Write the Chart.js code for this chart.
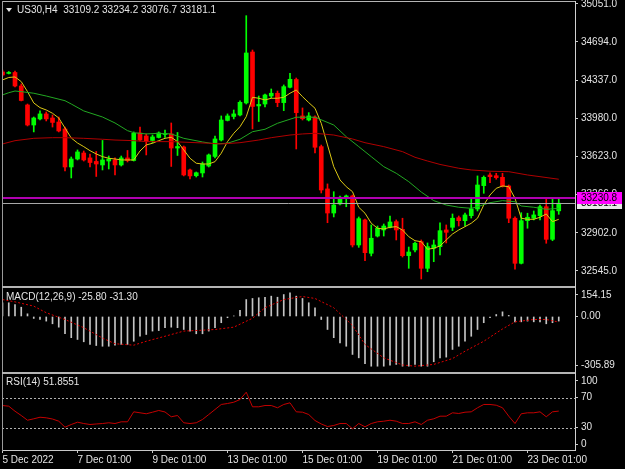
<!DOCTYPE html>
<html>
<head>
<meta charset="utf-8">
<script src="https://cdn.jsdelivr.net/npm/chart.js@4.4.0/dist/chart.umd.min.js"></script>
<style>
  html, body { margin: 0; padding: 0; background: #000; }
  #wrap { position: relative; width: 625px; height: 469px; overflow: hidden; background: #000; }
  #wrap canvas { position: absolute; left: 0; }
  .sep { position: absolute; background: #b4b4b4; }
</style>
</head>
<body>
<div id="wrap">
  <canvas id="cMain" width="625" height="286" style="top:0"></canvas>
  <canvas id="cMacd" width="625" height="84" style="top:288px"></canvas>
  <canvas id="cRsi" width="625" height="96" style="top:373px"></canvas>
  <div class="sep" style="left:2px;top:1px;width:574px;height:1px"></div>
  <div class="sep" style="left:2px;top:1px;width:1px;height:450px;background:#9a9a9a"></div>
  <div class="sep" style="left:2px;top:286px;width:574px;height:2px"></div>
  <div class="sep" style="left:2px;top:372px;width:574px;height:2px"></div>
  <div class="sep" style="left:575px;top:1px;width:1px;height:450px;background:#d0d0d0"></div>
</div>
<script>
// US30 H4 — candles + MAs, MACD(12,26,9), RSI(14)

// ---- data ----
var tradeDays = ["5 Dec", "6 Dec", "7 Dec", "8 Dec", "9 Dec", "12 Dec", "13 Dec", "14 Dec",
  "15 Dec", "16 Dec", "19 Dec", "20 Dec", "21 Dec", "22 Dec", "23 Dec"];
var barHours = ["01:00", "05:00", "09:00", "13:00", "17:00", "21:00"];
var labelIdx = [0, 12, 24, 36, 48, 60, 72, 84];

var open = [
  34413, 34399, 34408, 34281, 34103, 33915, 33972, 34019, 33981, 33943,
  33878, 33521, 33596, 33652, 33606, 33573, 33540, 33577, 33587, 33540,
  33606, 33582, 33840, 33812, 33770, 33798, 33826, 33831, 33699, 33709,
  33493, 33439, 33465, 33530, 33620, 33774, 33958, 33995, 34009, 34122,
  34600, 34094, 34112, 34187, 34213, 34125, 34269, 34342, 34000, 33962,
  33990, 33712, 33315, 33089, 33174, 33227, 33249, 32789, 33024, 32711,
  32873, 32930, 32955, 33008, 32936, 32689, 32742, 32820, 32570, 32758,
  32773, 32930, 32955, 33045, 33017, 33064, 33127, 33346, 33446, 33439,
  33424, 33343, 33040, 32617, 33017, 33040, 33064, 33148, 32842, 33109.2];
var high = [
  34431, 34417, 34422, 34300, 34112, 33990, 34047, 34037, 34009, 33990,
  33896, 33615, 33681, 33671, 33643, 33667, 33770, 33624, 33606, 33624,
  33676, 33850, 33896, 33831, 33821, 33850, 33868, 33934, 33845, 33718,
  33502, 33474, 33568, 33643, 33812, 34000, 34019, 34056, 34141, 34941,
  34619, 34187, 34206, 34253, 34234, 34291, 34400, 34356, 34075, 34031,
  34000, 33727, 33362, 33289, 33249, 33258, 33258, 33052, 33033, 32977,
  32967, 32986, 33061, 33024, 33040, 32770, 32817, 32836, 32808, 32836,
  32998, 32977, 33080, 33061, 33089, 33218, 33437, 33437, 33467, 33462,
  33462, 33352, 33052, 33092, 33087, 33108, 33164, 33218, 33227, 33234.2];
var low = [
  34375, 34394, 34272, 34141, 33906, 33850, 33962, 33953, 33896, 33850,
  33483, 33418, 33587, 33577, 33521, 33432, 33493, 33502, 33446, 33530,
  33568, 33577, 33765, 33634, 33746, 33793, 33798, 33526, 33629, 33437,
  33408, 33427, 33427, 33521, 33606, 33765, 33953, 33972, 34000, 34112,
  33878, 33948, 34084, 34169, 34087, 34050, 34263, 33690, 33962, 33953,
  33652, 33277, 32998, 33052, 33164, 33148, 32770, 32767, 32642, 32686,
  32864, 32873, 32949, 32836, 32676, 32570, 32723, 32470, 32538, 32632,
  32695, 32808, 32923, 32967, 32967, 33042, 33108, 33274, 33374, 33406,
  33333, 32998, 32561, 32611, 32946, 33024, 33024, 32805, 32829, 33076.7];
var close = [
  34385, 34408, 34281, 34145, 33915, 33981, 34019, 33972, 33939, 33859,
  33521, 33596, 33662, 33587, 33563, 33549, 33587, 33596, 33540, 33606,
  33582, 33837, 33774, 33760, 33803, 33840, 33835, 33699, 33713, 33446,
  33437, 33467, 33549, 33634, 33784, 33962, 34000, 34019, 34128, 34591,
  34089, 34108, 34197, 34213, 34125, 34275, 34344, 34031, 33974, 34000,
  33706, 33305, 33089, 33164, 33237, 33249, 32789, 33036, 32717, 32852,
  32946, 32967, 33005, 32930, 32689, 32723, 32805, 32570, 32773, 32789,
  32923, 32908, 33040, 33017, 33071, 33127, 33352, 33424, 33430, 33421,
  33343, 33040, 32617, 33017, 33049, 33071, 33148, 32842, 33111, 33181.1];

// fast MA (yellow), one value per bar
var maFast = [
  34338, 34361, 34366, 34322, 34228, 34122, 34078, 34056, 34025, 33981,
  33887, 33793, 33746, 33712, 33674, 33643, 33618, 33603, 33596, 33587,
  33587, 33587, 33671, 33728, 33744, 33768, 33790, 33800, 33759, 33681,
  33603, 33556, 33549, 33549, 33571, 33650, 33759, 33837, 33899, 33993,
  34175, 34166, 34150, 34166, 34166, 34175, 34213, 34244, 34181, 34125,
  34072, 33931, 33728, 33524, 33399, 33336, 33289, 33143, 33087, 32993,
  32946, 32939, 32955, 32961, 32930, 32867, 32829, 32820, 32749, 32758,
  32780, 32836, 32892, 32930, 32961, 32993, 33040, 33164, 33258, 33321,
  33343, 33336, 33227, 33040, 33030, 33030, 33049, 33080, 33008, 33030];
// medium MA (green), [bar, value]
var maMid = [
  [0, 34197], [1, 34218], [2, 34234], [3, 34228], [5, 34213], [7, 34187], [10, 34143],
  [11, 34112], [13, 34047], [16, 33990], [18, 33934], [20, 33862], [21, 33843], [23, 33831],
  [25, 33837], [27, 33831], [29, 33790], [32, 33756], [34, 33737], [36, 33744], [38, 33781],
  [40, 33852], [42, 33875], [44, 33931], [46, 33969], [47, 33988], [50, 33988], [53, 33915],
  [55, 33805], [57, 33712], [59, 33618], [61, 33524], [63, 33462], [65, 33383], [67, 33286],
  [69, 33205], [71, 33164], [73, 33143], [75, 33133], [76, 33148], [78, 33186], [80, 33205],
  [82, 33195], [83, 33155], [85, 33143], [87, 33124], [89, 33133]];
// slow MA (dark red), [bar, value]
var maSlow = [
  [0, 33737], [2, 33768], [5, 33790], [8, 33796], [10, 33796], [13, 33790], [16, 33781],
  [18, 33774], [21, 33768], [23, 33759], [27, 33759], [33, 33744], [35, 33737], [38, 33749],
  [41, 33774], [43, 33796], [46, 33821], [48, 33831], [50, 33837], [53, 33821], [56, 33784],
  [58, 33749], [61, 33712], [64, 33665], [66, 33612], [68, 33577], [70, 33545], [73, 33509],
  [75, 33493], [78, 33481], [81, 33477], [84, 33446], [86, 33430], [89, 33406]];

var macdMain = [
  77, 77, 67, 52, 15, -11, -17, -26, -41, -60,
  -97, -119, -129, -142, -157, -163, -167, -167, -161, -157,
  -157, -139, -111, -101, -82, -79, -63, -60, -63, -73,
  -82, -97, -97, -82, -63, -35, -7, 3, 34, 95,
  101, 105, 108, 114, 108, 123, 133, 114, 101, 77,
  48, -17, -73, -119, -148, -167, -213, -232, -265, -279,
  -279, -279, -273, -269, -279, -279, -269, -279, -279, -254,
  -232, -228, -185, -167, -139, -111, -73, -35, -7, 11,
  26, 6, -30, -30, -26, -30, -30, -41, -35, -25.8];
var macdSignal = [
  [0, 95], [2, 82], [5, 58], [7, 21], [10, -17], [13, -63], [16, -121], [18, -153],
  [21, -161], [23, -139], [26, -111], [29, -82], [32, -77], [34, -73], [37, -60],
  [40, -10], [42, 49], [45, 95], [48, 112], [50, 101], [53, 49], [56, -50], [58, -157],
  [61, -232], [64, -272], [66, -279], [69, -269], [72, -236], [74, -195], [77, -139],
  [80, -70], [82, -30], [85, -17], [87, -17], [89, -31.3]];
var macdMin = -305.89, macdMax = 154.15;

var rsi = [
  59.3, 58.4, 51.7, 46, 39.7, 41.6, 43.7, 42.9, 41.3, 38.4,
  30.4, 34, 37.1, 35.3, 34, 34.7, 35.3, 36.3, 35.3, 37.6,
  37.6, 50.9, 49.6, 48.3, 50.4, 52.7, 50.7, 44.3, 46, 36.3,
  35.3, 36.3, 40.7, 47.3, 54, 60.7, 62, 63.7, 67.3, 77.1,
  57.6, 57.6, 59.3, 59.3, 56.3, 60.7, 62.9, 50.9, 50.4, 47.3,
  39.3, 34.7, 31.3, 32.7, 35.3, 35.3, 28.3, 35.3, 30.9, 35.3,
  37.6, 38.4, 39.7, 38.4, 35.3, 35.3, 37.6, 34, 39.7, 41.6,
  45.1, 45.1, 49.6, 48.7, 50.4, 50.9, 56.3, 60.7, 60.7, 59.7,
  56.3, 45.1, 35.3, 48.3, 49.6, 49.6, 50.9, 44.3, 50.9, 51.8551];
var rsiLevels = [30, 70];

var priceTicks = [32545, 32902, 33266, 33623, 33980, 34337, 34694, 35051];
var priceMin = 32404, priceMax = 35060;
var alertLevel = 33230.8;

// ---- look ----
var FONT = "'Liberation Sans', Arial, sans-serif";
var FONT_SIZE = 10;
var TXT = "#e4e4e4";
var AXIS = "#c8c8c8";
var UP = "#00ff00", DN = "#ff0000";
var BAR_PX = 6.25, PLOT_W = 573;
var X_MIN = -0.08, X_MAX = X_MIN + PLOT_W / BAR_PX;
var LABEL_INSET_PX = 6;

Chart.defaults.font.family = FONT;
Chart.defaults.font.size = FONT_SIZE;

var last = close.length - 1;
var idx = close.map(function (_, i) { return i; });

function tickLabel(i) {
  var d = tradeDays[Math.floor(i / barHours.length)];
  return i === 0 ? d + " 2022" : d + " " + barHours[i % barHours.length];
}

function pts(pairs) {
  return pairs.map(function (p) { return { x: p[0], y: p[1] }; });
}

function xScale(show) {
  return {
    type: "linear", min: X_MIN, max: X_MAX, offset: false, display: show,
    afterBuildTicks: function (s) { s.ticks = labelIdx.map(function (v) { return { value: v }; }); },
    afterFit: function (s) {
      s.paddingLeft = 0; s.paddingRight = 0;
      s.height = show ? 19 : 0;
    },
    grid: { drawOnChartArea: false, drawTicks: true, tickLength: 3, color: AXIS },
    border: { display: true, color: AXIS },
    ticks: {
      align: "start", autoSkip: false, maxRotation: 0, padding: 1, color: TXT,
      callback: function (v) { return tickLabel(v); }
    }
  };
}

function yScale(min, max, tickValues, fmt) {
  return {
    position: "right", min: min, max: max,
    afterBuildTicks: function (s) { s.ticks = tickValues.map(function (v) { return { value: v }; }); },
    afterFit: function (s) { s.width = 50; s.paddingTop = 0; s.paddingBottom = 0; },
    grid: { drawOnChartArea: false, drawTicks: true, tickLength: 3, color: AXIS },
    border: { display: false },
    ticks: { padding: 3, color: TXT, autoSkip: false, callback: fmt }
  };
}

function baseOptions(padding, scales) {
  return {
    responsive: false, animation: false, devicePixelRatio: 1, events: [],
    layout: { padding: padding },
    plugins: { legend: { display: false }, tooltip: { enabled: false } },
    scales: scales
  };
}

function hline(ctx, a, y, color, width, dash) {
  ctx.save();
  ctx.strokeStyle = color;
  ctx.lineWidth = width;
  ctx.setLineDash(dash || []);
  ctx.beginPath();
  ctx.moveTo(a.left, y);
  ctx.lineTo(a.right, y);
  ctx.stroke();
  ctx.restore();
}

function priceTag(ctx, x, y, value, bg, fg) {
  ctx.fillStyle = bg;
  ctx.fillRect(x, Math.round(y) - 6, 45, 12);
  ctx.fillStyle = fg;
  ctx.font = FONT_SIZE + "px " + FONT;
  ctx.textBaseline = "middle";
  ctx.textAlign = "left";
  ctx.fillText(value.toFixed(1), x + 4, Math.round(y) + 0.5);
}

function paneTitle(ctx, text, x, y) {
  ctx.save();
  ctx.fillStyle = TXT;
  ctx.font = FONT_SIZE + "px " + FONT;
  ctx.textBaseline = "middle";
  ctx.textAlign = "left";
  ctx.fillText(text, x, y);
  ctx.restore();
}

// ---- main pane ----
var mainMarks = {
  id: "mainMarks",
  afterDatasetsDraw: function (chart) {
    var ctx = chart.ctx, a = chart.chartArea, y = chart.scales.y;
    hline(ctx, a, Math.round(y.getPixelForValue(close[last])) + 0.5, "#a8a8a8", 1);
    hline(ctx, a, y.getPixelForValue(alertLevel), "#b000b0", 2);
  },
  afterDraw: function (chart) {
    var ctx = chart.ctx, a = chart.chartArea, y = chart.scales.y;
    ctx.save();
    priceTag(ctx, a.right + 2, y.getPixelForValue(close[last]), close[last], "#e8e8e8", "#000");
    priceTag(ctx, a.right + 2, y.getPixelForValue(alertLevel), alertLevel, "#ff00ff", "#000");
    // header: symbol, timeframe and last bar OHLC
    ctx.fillStyle = TXT;
    ctx.beginPath();
    ctx.moveTo(6, 8); ctx.lineTo(12, 8); ctx.lineTo(9, 12); ctx.closePath();
    ctx.fill();
    ctx.restore();
    paneTitle(ctx, "US30,H4  " + [open[last], high[last], low[last], close[last]]
      .map(function (v) { return v.toFixed(1); }).join(" "), 17, 10);
  }
};

var isUp = idx.map(function (i) { return close[i] >= open[i]; });
var candleColors = isUp.map(function (u) { return u ? UP : DN; });

new Chart(document.getElementById("cMain"), {
  type: "bar",
  data: {
    datasets: [
      { type: "line", data: pts(maSlow), borderColor: "#b00000", borderWidth: 1, pointRadius: 0, order: 0 },
      { type: "line", data: pts(maMid), borderColor: "#22a822", borderWidth: 1, pointRadius: 0, order: 0 },
      { type: "line", data: idx.map(function (i) { return { x: i, y: maFast[i] }; }),
        borderColor: "#dcc814", borderWidth: 1, pointRadius: 0, order: 0 },
      { data: idx.map(function (i) { return { x: i, y: [Math.min(open[i], close[i]), Math.max(open[i], close[i])] }; }),
        backgroundColor: candleColors, borderWidth: 0, barThickness: 4, minBarLength: 1, grouped: false, order: 1 },
      { data: idx.map(function (i) { return { x: i, y: [low[i], high[i]] }; }),
        backgroundColor: candleColors, borderWidth: 0, barThickness: 1, grouped: false, order: 2 }
    ]
  },
  options: baseOptions({ left: 2, top: 3, right: 0, bottom: 0 }, {
    x: xScale(false),
    y: yScale(priceMin, priceMax, priceTicks, function (v) { return v.toFixed(1); })
  }),
  plugins: [mainMarks]
});

// ---- MACD pane ----
var macdInset = LABEL_INSET_PX * (macdMax - macdMin) / 82;
var macdTickVals = [macdMin + macdInset, 0, macdMax - macdInset];
var macdTickText = [macdMin.toFixed(2), "0.00", macdMax.toFixed(2)];

new Chart(document.getElementById("cMacd"), {
  type: "bar",
  data: {
    datasets: [
      { type: "line", data: pts(macdSignal), borderColor: "#e00000", borderWidth: 1,
        borderDash: [2, 2], pointRadius: 0, order: 0 },
      { data: idx.map(function (i) { return { x: i, y: macdMain[i] }; }),
        backgroundColor: "#c4c4c4", borderWidth: 0, barThickness: 1, grouped: false, order: 1 }
    ]
  },
  options: baseOptions({ left: 2, top: 1, right: 0, bottom: 1 }, {
    x: xScale(false),
    y: yScale(macdMin, macdMax, macdTickVals, function (v, i) { return macdTickText[i]; })
  }),
  plugins: [{
    id: "macdTitle",
    afterDraw: function (chart) {
      var sig = macdSignal[macdSignal.length - 1][1];
      paneTitle(chart.ctx, "MACD(12,26,9) " + macdMain[last].toFixed(2) + " " + sig.toFixed(2), 6, 9);
    }
  }]
});

// ---- RSI pane ----
var rsiInset = LABEL_INSET_PX * 100 / 75;
var rsiTickVals = [rsiInset, 30, 70, 100 - rsiInset];
var rsiTickText = ["0", "30", "70", "100"];

new Chart(document.getElementById("cRsi"), {
  type: "line",
  data: {
    datasets: [
      { data: idx.map(function (i) { return { x: i, y: rsi[i] }; }),
        borderColor: "#c40000", borderWidth: 1, pointRadius: 0 }
    ]
  },
  options: baseOptions({ left: 2, top: 2, right: 0, bottom: 0 }, {
    x: xScale(true),
    y: yScale(0, 100, rsiTickVals, function (v, i) { return rsiTickText[i]; })
  }),
  plugins: [{
    id: "rsiMarks",
    beforeDatasetsDraw: function (chart) {
      var a = chart.chartArea, y = chart.scales.y;
      rsiLevels.forEach(function (lv) {
        hline(chart.ctx, a, Math.round(y.getPixelForValue(lv)) + 0.5, "#b0b0b0", 1, [2, 2]);
      });
    },
    afterDraw: function (chart) {
      paneTitle(chart.ctx, "RSI(14) " + rsi[last].toFixed(4), 6, 9.5);
    }
  }]
});
</script>
</body>
</html>
